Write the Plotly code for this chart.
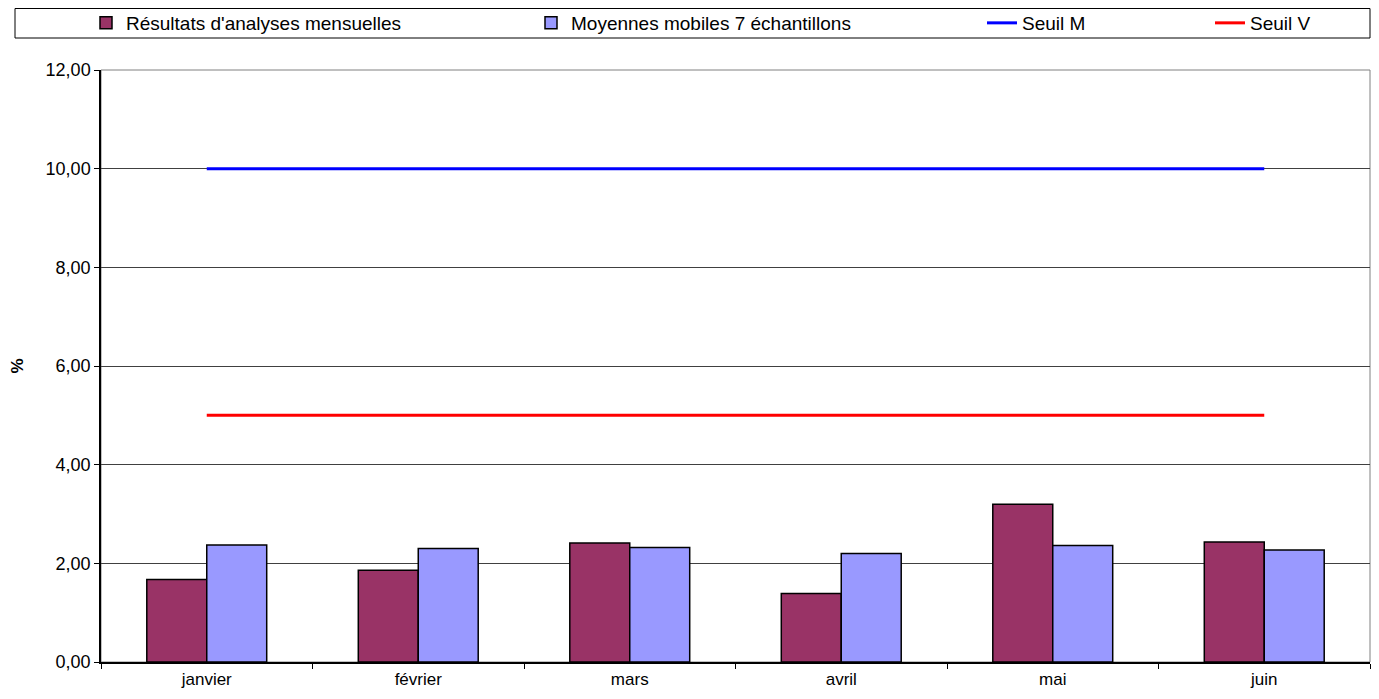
import plotly.graph_objects as go

# donnees
mois = ["janvier", "février", "mars", "avril", "mai", "juin"]
resultats = [1.67, 1.86, 2.41, 1.39, 3.20, 2.43]
moyennes = [2.37, 2.30, 2.32, 2.20, 2.36, 2.27]
seuil_m = [10, 10, 10, 10, 10, 10]
seuil_v = [5, 5, 5, 5, 5, 5]

# la page ajoute 8 px de marge autour de la figure
W, H = 1363, 683
ARIAL = "Liberation Sans, Arial"

fig = go.Figure()
fig.add_trace(go.Bar(x=mois, y=resultats, name="Résultats d'analyses mensuelles",
                     marker=dict(color="#993366", line=dict(color="black", width=1.5)),
                     legend="legend"))
fig.add_trace(go.Bar(x=mois, y=moyennes, name="Moyennes mobiles 7 échantillons",
                     marker=dict(color="#9999FF", line=dict(color="black", width=1.5)),
                     legend="legend2"))
fig.add_trace(go.Scatter(x=mois, y=seuil_m, name="Seuil M", mode="lines",
                         line=dict(color="#0000FF", width=3), legend="legend3"))
fig.add_trace(go.Scatter(x=mois, y=seuil_v, name="Seuil V", mode="lines",
                         line=dict(color="#FF0000", width=3), legend="legend4"))

# une legende par serie pour retrouver l'espacement d'origine
def leg(px):
    return dict(xref="container", yref="container", x=px / W, y=1 - 15 / H,
                xanchor="left", yanchor="middle", orientation="h",
                font=dict(family=ARIAL, size=19, color="black"),
                bgcolor="rgba(0,0,0,0)", borderwidth=0, itemclick=False)

fig.update_layout(
    width=W, height=H,
    margin=dict(l=93, r=1, t=62, b=29),
    paper_bgcolor="white", plot_bgcolor="white",
    separators=", ",
    barmode="group", bargap=0.433, bargroupgap=0,
    font=dict(family=ARIAL, size=17, color="black"),
    showlegend=True,
    legend=leg(78), legend2=leg(523), legend3=leg(974), legend4=leg(1202),
    shapes=[
        dict(type="rect", xref="paper", yref="paper", x0=0, x1=1, y0=0, y1=1,
             line=dict(color="#808080", width=1), layer="below"),
        dict(type="rect", xref="paper", yref="paper",
             x0=(7 - 93) / 1269, x1=1, y0=1 + (62 - 30) / 592, y1=1 + (62 - 0.5) / 592,
             line=dict(color="black", width=1)),
    ],
)
fig.update_xaxes(tickson="boundaries", ticks="outside", ticklen=5, tickcolor="black",
                 showline=True, linecolor="black", linewidth=1.5,
                 ticklabelstandoff=1, automargin=False,
                 tickfont=dict(family=ARIAL, size=17, color="black"))
fig.update_yaxes(range=[0, 12], dtick=2, tickformat=".2f", ticks="outside", ticklen=5,
                 tickcolor="black", showline=True, linecolor="black", linewidth=1.5,
                 showgrid=True, gridcolor="#404040", gridwidth=1, zeroline=False,
                 automargin=False,
                 tickfont=dict(family=ARIAL, size=18, color="black"),
                 title=dict(text="<b>%</b>", standoff=24,
                            font=dict(family=ARIAL, size=17)))

fig.write_html("out.html")
